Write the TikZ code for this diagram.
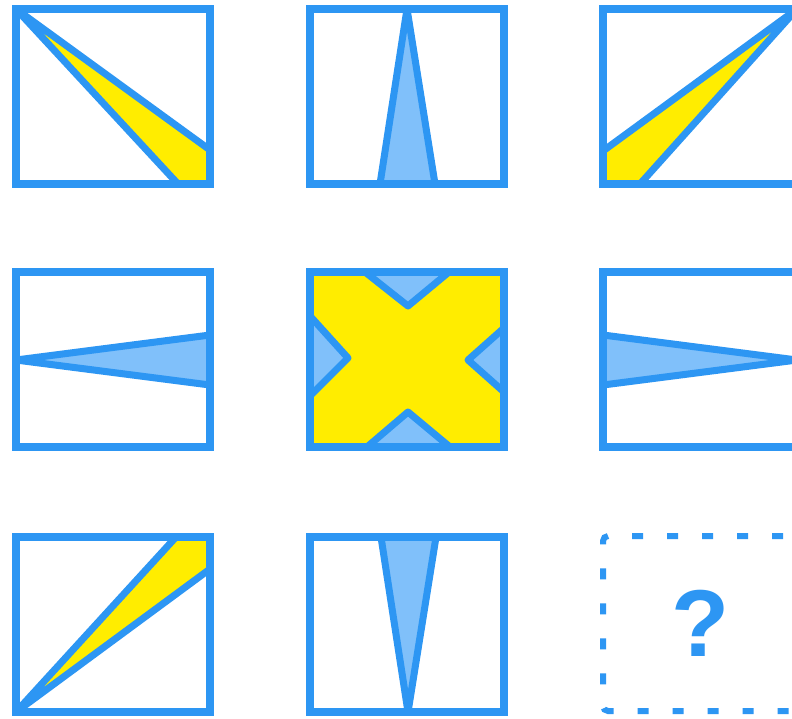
\documentclass[tikz,border=0pt]{standalone}
\usepackage{fontspec}
\newfontfamily\qfont{Liberation Sans}
\definecolor{qblue}{RGB}{45,150,243}
\definecolor{qlight}{RGB}{128,192,250}
\definecolor{qyellow}{RGB}{255,237,0}
\begin{document}
\begin{tikzpicture}[x=1pt,y=-1pt,
    frame/.style={draw=qblue,line width=7.5pt},
    ywedge/.style={fill=qyellow,draw=qblue,line width=7pt,line join=round},
    bwedge/.style={fill=qlight,draw=qblue,line width=7pt,line join=round},
    dashbox/.style={draw=qblue,line width=6pt,rounded corners=5pt,dash pattern=on 11pt off 24pt,dash phase=18pt}]
        \fill[white](0,0) rectangle (792,718);
        \clip(0,0) rectangle (792,718);
        %riga 1
            \filldraw[ywedge](16,9)--(210,150)--(210,184)--(178,184)--cycle;
            \filldraw[bwedge](407,9)--(435,184)--(380,184)--cycle;
            \filldraw[ywedge](797,9)--(603,151)--(603,184)--(640,184)--cycle;
            \draw[frame](16,9) rectangle ++(194,175);
            \draw[frame](310,9) rectangle ++(194,175);
            \draw[frame](603,9) rectangle ++(194,175);
        %riga 2
            \filldraw[bwedge](16,360)--(210,335)--(210,385)--cycle;
            \fill[qyellow](310,272) rectangle ++(194,175);
            \filldraw[bwedge](365,272)--(449,272)--(408,306)--cycle;
            \filldraw[bwedge](367,447)--(450,447)--(408,412)--cycle;
            \filldraw[bwedge](310,316)--(348,358)--(310,396)--cycle;
            \filldraw[bwedge](504,328)--(468,360)--(504,392)--cycle;
            \filldraw[bwedge](603,335)--(797,360)--(603,385)--cycle;
            \draw[frame](16,272) rectangle ++(194,175);
            \draw[frame](310,272) rectangle ++(194,175);
            \draw[frame](603,272) rectangle ++(194,175);
        %riga 3
            \filldraw[ywedge](16,712)--(176,537)--(210,537)--(210,569)--cycle;
            \filldraw[bwedge](381,537)--(436,537)--(408,712)--cycle;
            \draw[frame](16,537) rectangle ++(194,175);
            \draw[frame](310,537) rectangle ++(194,175);
        %casella vuota
        \draw[dashbox](800,536)--(603,536)--(603,711)--(800,711);
        \node (qmark) at (701,623)[text=qblue]{\qfont\fontsize{95}{95}\selectfont\bfseries ?};
\end{tikzpicture}
\end{document}
